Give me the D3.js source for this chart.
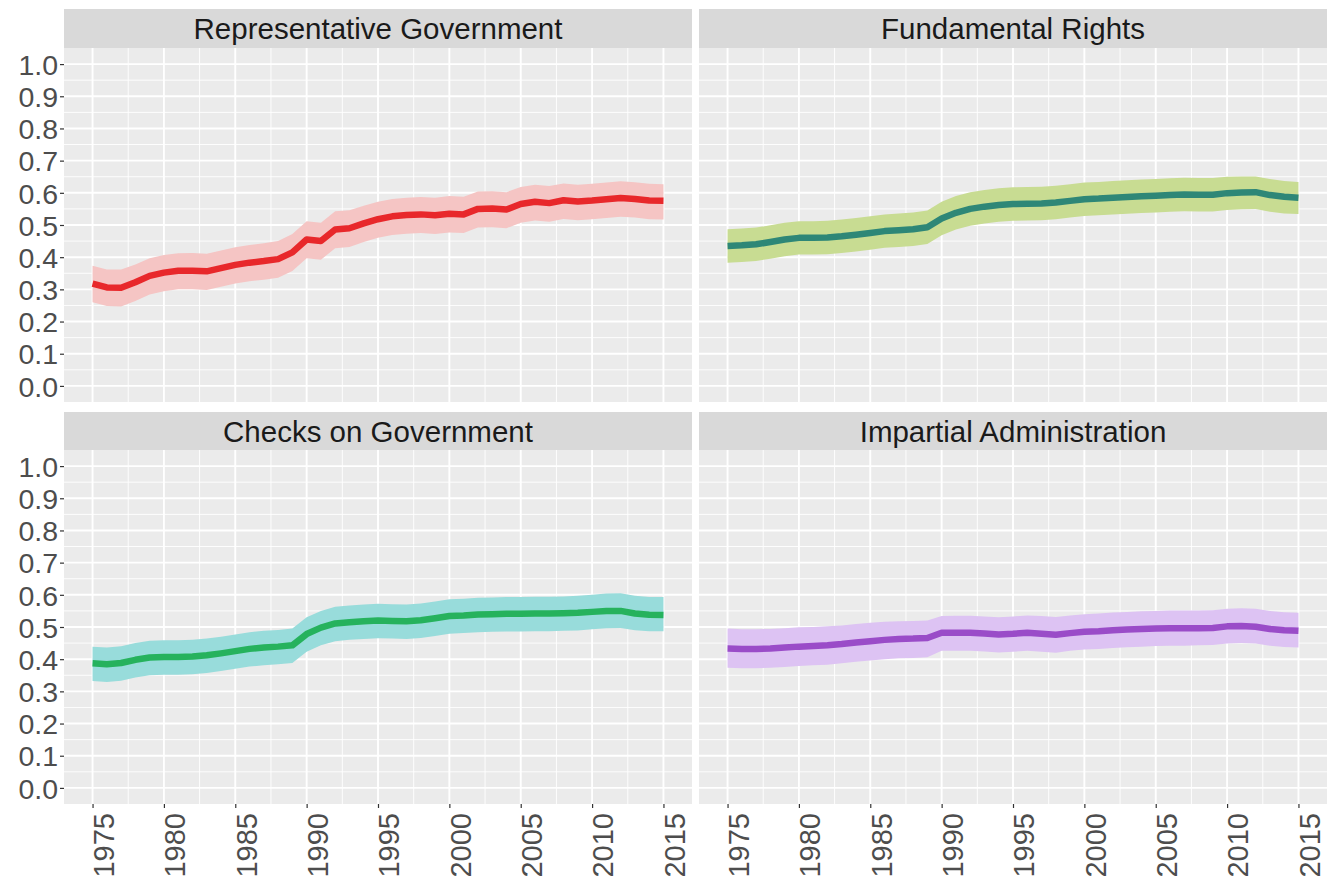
<!DOCTYPE html>
<html>
<head>
<meta charset="utf-8">
<script src="https://cdn.jsdelivr.net/npm/d3@7"></script>
<style>
  html, body { margin: 0; padding: 0; background: #ffffff; }
  svg { display: block; }
  text { font-family: "Liberation Sans", Arial, Helvetica, sans-serif; }
</style>
</head>
<body>
<svg id="chart" width="1329" height="881"></svg>
<script>
// ---------------- DATA ----------------
const years = [1975,1976,1977,1978,1979,1980,1981,1982,1983,1984,1985,1986,1987,1988,1989,1990,1991,1992,1993,1994,1995,1996,1997,1998,1999,2000,2001,2002,2003,2004,2005,2006,2007,2008,2009,2010,2011,2012,2013,2014,2015];

const panelTitles = ["Representative Government", "Fundamental Rights", "Checks on Government", "Impartial Administration"];

const xTickLabels = [1975,1980,1985,1990,1995,2000,2005,2010,2015];
const yTickLabels = [0.0,0.1,0.2,0.3,0.4,0.5,0.6,0.7,0.8,0.9,1.0];

// Representative Government
const repMean = [.318,.306,.305,.322,.342,.352,.358,.358,.356,.366,.376,.383,.388,.394,.415,.455,.450,.486,.490,.505,.518,.527,.531,.533,.530,.535,.533,.550,.551,.548,.565,.572,.568,.577,.573,.576,.580,.584,.581,.576,.575];
const repHi   = [.373,.362,.362,.377,.397,.407,.412,.413,.411,.421,.431,.438,.443,.450,.472,.512,.507,.543,.546,.560,.572,.581,.585,.587,.585,.590,.588,.604,.605,.602,.618,.625,.621,.629,.625,.628,.632,.636,.633,.628,.627];
const repLo   = [.260,.248,.247,.264,.284,.294,.300,.300,.298,.308,.318,.325,.330,.336,.357,.397,.392,.428,.432,.447,.460,.469,.473,.475,.472,.477,.475,.492,.493,.490,.507,.514,.510,.519,.515,.518,.522,.526,.523,.518,.517];

// Fundamental Rights
const funMean = [.435,.437,.440,.447,.455,.460,.460,.461,.465,.470,.475,.481,.484,.487,.493,.520,.538,.550,.557,.562,.565,.566,.567,.570,.575,.580,.582,.585,.587,.589,.591,.593,.595,.594,.594,.599,.601,.602,.593,.588,.585];
const funHi   = [.487,.489,.492,.499,.507,.512,.512,.513,.517,.522,.527,.533,.536,.539,.545,.572,.590,.602,.609,.614,.617,.618,.619,.622,.627,.632,.634,.637,.639,.641,.643,.645,.647,.646,.646,.650,.651,.651,.643,.637,.634];
const funLo   = [.383,.385,.388,.395,.403,.408,.408,.409,.413,.418,.423,.429,.432,.435,.441,.468,.486,.498,.505,.510,.513,.514,.515,.518,.523,.528,.530,.533,.535,.537,.539,.541,.543,.542,.542,.547,.549,.550,.541,.536,.534];

// Checks on Government
const chkMean = [.387,.384,.388,.398,.405,.407,.407,.408,.412,.418,.425,.432,.436,.439,.443,.478,.498,.511,.515,.518,.520,.519,.518,.521,.527,.534,.536,.539,.540,.541,.541,.542,.542,.543,.544,.547,.550,.550,.542,.538,.537];
const chkHi   = [.439,.436,.440,.450,.457,.459,.459,.460,.464,.470,.477,.484,.488,.491,.495,.530,.550,.563,.567,.570,.572,.571,.570,.573,.579,.586,.588,.591,.592,.593,.593,.594,.594,.595,.597,.600,.604,.605,.597,.593,.593];
const chkLo   = [.332,.329,.333,.343,.350,.352,.352,.353,.357,.363,.370,.377,.381,.384,.388,.423,.443,.456,.460,.463,.465,.464,.463,.466,.472,.479,.481,.484,.485,.486,.486,.487,.487,.488,.489,.493,.496,.497,.490,.487,.487];

// Impartial Administration
const impMean = [.433,.432,.432,.433,.436,.439,.441,.443,.447,.452,.456,.460,.463,.464,.466,.482,.482,.482,.480,.477,.479,.482,.479,.476,.481,.485,.487,.490,.492,.494,.495,.496,.496,.496,.497,.502,.503,.501,.494,.490,.488];
const impHi   = [.495,.493,.493,.494,.496,.499,.500,.502,.505,.509,.513,.516,.518,.519,.520,.534,.535,.535,.533,.530,.533,.536,.534,.531,.536,.540,.542,.545,.547,.549,.550,.551,.551,.551,.552,.557,.558,.557,.550,.546,.544];
const impLo   = [.373,.372,.372,.373,.376,.379,.381,.383,.387,.392,.396,.400,.403,.404,.406,.426,.426,.426,.424,.421,.423,.426,.423,.420,.426,.430,.432,.435,.437,.439,.441,.442,.442,.443,.444,.449,.450,.449,.442,.438,.436];

const lineColors = ["#e8282b", "#2e8777", "#26b25d", "#9a4cc8"];
const bandColors = ["#f5c5c4", "#c8dc92", "#98dcdb", "#ddc3f3"];

const seriesMean = [repMean, funMean, chkMean, impMean];
const seriesHi   = [repHi, funHi, chkHi, impHi];
const seriesLo   = [repLo, funLo, chkLo, impLo];

// ---------------- LAYOUT ----------------
const svg = d3.select("#chart");
const cols = [[64, 692], [699, 1327]];
const rows = [{strip: [9, 48], panel: [48, 402]}, {strip: [412, 450], panel: [450, 804]}];

for (let i = 0; i < 4; i++) {
  const c = cols[i % 2], r = rows[Math.floor(i / 2)];
  const x = d3.scaleLinear().domain([1973, 2017]).range(c);
  const y = d3.scaleLinear().domain([-0.05, 1.05]).range([r.panel[1], r.panel[0]]);
  const g = svg.append("g");

  // strip
  g.append("rect").attr("x", c[0]).attr("y", r.strip[0])
    .attr("width", c[1] - c[0]).attr("height", r.strip[1] - r.strip[0]).attr("fill", "#d9d9d9");
  g.append("text").attr("x", (c[0] + c[1]) / 2).attr("y", (r.strip[0] + r.strip[1]) / 2)
    .attr("dy", "0.36em").attr("text-anchor", "middle")
    .attr("font-size", 29.5).attr("fill", "#1a1a1a").text(panelTitles[i]);

  // panel bg
  g.append("rect").attr("x", c[0]).attr("y", r.panel[0])
    .attr("width", c[1] - c[0]).attr("height", r.panel[1] - r.panel[0]).attr("fill", "#ebebeb");

  // minor grid
  const minorX = xTickLabels.slice(0, -1).map(v => v + 2.5);
  const minorY = yTickLabels.slice(0, -1).map(v => v + 0.05);
  g.selectAll(".mx").data(minorX).enter().append("line")
    .attr("x1", d => x(d)).attr("x2", d => x(d)).attr("y1", r.panel[0]).attr("y2", r.panel[1])
    .attr("stroke", "#ffffff").attr("stroke-width", 0.9);
  g.selectAll(".my").data(minorY).enter().append("line")
    .attr("x1", c[0]).attr("x2", c[1]).attr("y1", d => y(d)).attr("y2", d => y(d))
    .attr("stroke", "#ffffff").attr("stroke-width", 0.9);
  // major grid
  g.selectAll(".Mx").data(xTickLabels).enter().append("line")
    .attr("x1", d => x(d)).attr("x2", d => x(d)).attr("y1", r.panel[0]).attr("y2", r.panel[1])
    .attr("stroke", "#ffffff").attr("stroke-width", 1.9);
  g.selectAll(".My").data(yTickLabels).enter().append("line")
    .attr("x1", c[0]).attr("x2", c[1]).attr("y1", d => y(d)).attr("y2", d => y(d))
    .attr("stroke", "#ffffff").attr("stroke-width", 1.9);

  // band
  const pts = years.map((yr, k) => ({yr, m: seriesMean[i][k], lo: seriesLo[i][k], hi: seriesHi[i][k]}));
  g.append("path").datum(pts)
    .attr("d", d3.area().x(d => x(d.yr)).y0(d => y(d.lo)).y1(d => y(d.hi)))
    .attr("fill", bandColors[i]);
  g.append("path").datum(pts)
    .attr("d", d3.line().x(d => x(d.yr)).y(d => y(d.m)))
    .attr("fill", "none").attr("stroke", lineColors[i]).attr("stroke-width", 6.5)
    .attr("stroke-linejoin", "round");

  // y axis (left column only)
  if (i % 2 === 0) {
    const ay = d3.axisLeft(y).tickValues(yTickLabels).tickFormat(d3.format(".1f")).tickSize(4).tickPadding(2);
    const ga = svg.append("g").attr("transform", `translate(${c[0]},0)`).call(ay);
    ga.select(".domain").remove();
    ga.selectAll(".tick line").attr("stroke", "#333333").attr("stroke-width", 1.2);
    ga.selectAll(".tick text").attr("font-size", 28.5).attr("fill", "#4d4d4d")
      .attr("font-family", "Liberation Sans, Arial, sans-serif").attr("dy", "0.36em");
  }
  // x axis (bottom row only)
  if (i >= 2) {
    const ax = d3.axisBottom(x).tickValues(xTickLabels).tickFormat(d3.format("d")).tickSize(4);
    const gx = svg.append("g").attr("transform", `translate(0,${r.panel[1]})`).call(ax);
    gx.select(".domain").remove();
    gx.selectAll(".tick line").attr("stroke", "#333333").attr("stroke-width", 1.2);
    gx.selectAll(".tick text").attr("font-size", 29).attr("fill", "#4d4d4d")
      .attr("font-family", "Liberation Sans, Arial, sans-serif")
      .attr("text-anchor", "end").attr("transform", "rotate(-90)")
      .attr("x", -9).attr("y", 0).attr("dy", "0.72em");
  }
}
</script>
</body>
</html>
